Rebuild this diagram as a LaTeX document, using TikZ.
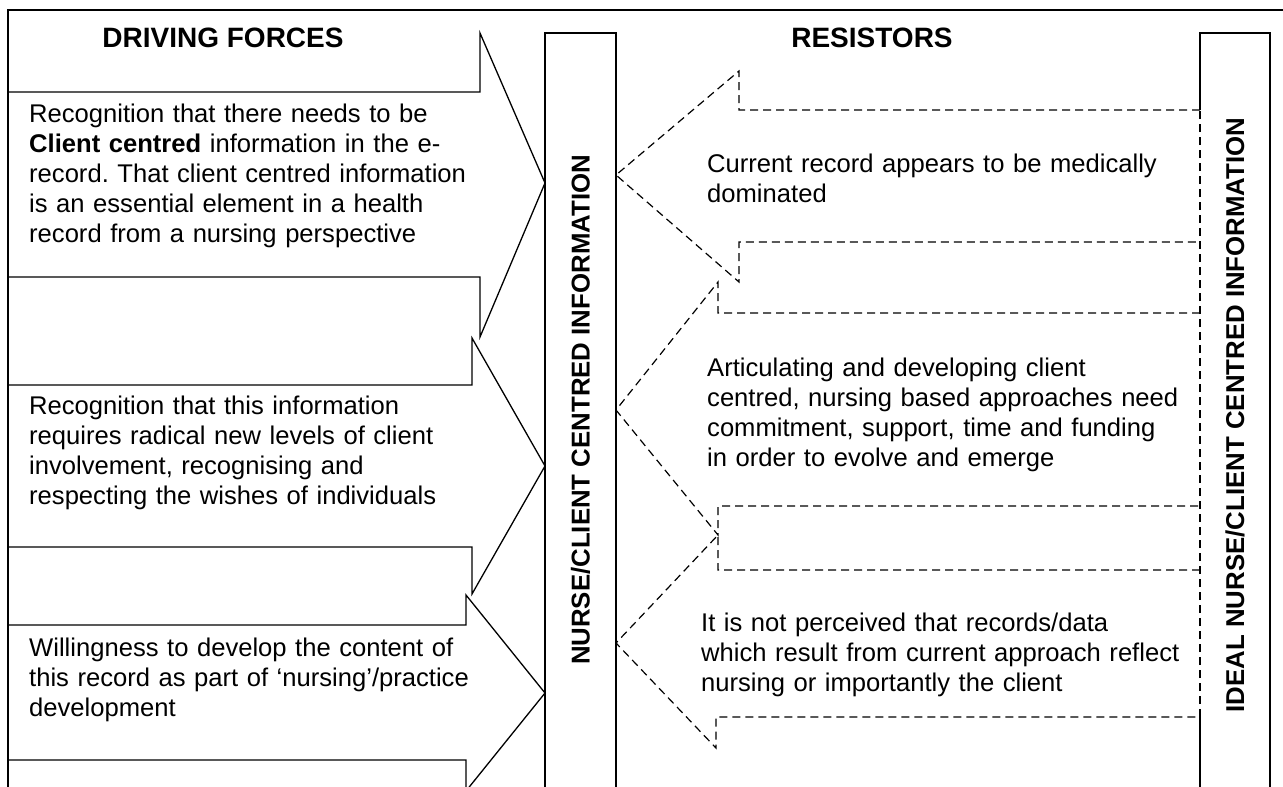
\documentclass[tikz,border=0pt]{standalone}
\usepackage{fontspec}
\setmainfont{Liberation Sans}
\frenchspacing
\begin{document}
\begin{tikzpicture}[x=1pt,y=-1pt,line join=miter,
  solidline/.style={line width=1.3pt},
  dashline/.style={line width=1.2pt,dash pattern=on 8pt off 5pt},
  body/.style={font=\fontsize{25.6}{30}\selectfont,inner sep=0pt,anchor=base west,align=left,text width=600pt},
  header/.style={font=\fontsize{28}{32}\selectfont\bfseries,inner sep=0pt},
  vlabel/.style={font=\fontsize{25.8}{30}\selectfont\bfseries,rotate=90,inner sep=0pt}]
\useasboundingbox (0,0) rectangle (1283,787);
\clip (0,0) rectangle (1283,787);

% outer frame (top and left)
\draw[solidline] (8,800) -- (8,10) -- (1290,10);

% driving forces: three solid arrows pointing right
\draw[solidline] (8,92) -- (480,92) -- (480,33) -- (545,183) -- (480,337) -- (480,277) -- (8,277);
\draw[solidline] (8,385) -- (472,385) -- (472,338) -- (545,466) -- (472,594) -- (472,547) -- (8,547);
\draw[solidline] (8,625) -- (466,625) -- (466,595) -- (545,693) -- (466,791) -- (466,760) -- (8,760);

% current state bar
\draw[solidline] (545,800) -- (545,33) -- (616,33) -- (616,800);

% ideal state bar, its left edge dashed where the resistors meet it
\draw[solidline] (1200,800) -- (1200,717);
\draw[dashline] (1200,717) -- (1200,110);
\draw[solidline] (1200,110) -- (1200,33) -- (1270,33) -- (1270,800);

% resistors: three dashed arrows pointing left
\draw[dashline] (1200,110) -- (739,110) -- (739,71) -- (616,175) -- (739,282) -- (739,242) -- (1200,242);
\draw[dashline] (1200,313) -- (718,313) -- (718,282) -- (616,410) -- (718,535) -- (718,506) -- (1200,506);
\draw[dashline] (1200,570) -- (718,570) -- (718,535) -- (616,643) -- (716,748) -- (716,717) -- (1200,717);

% headings
\node[header] (drivehead) at (223,38) {DRIVING FORCES};
\node[header] (resisthead) at (872,38) {RESISTORS};

% bar labels
\node[vlabel] (current) at (580.5,410) {NURSE/CLIENT CENTRED INFORMATION};
\node[vlabel] (ideal) at (1235,415) {IDEAL NURSE/CLIENT CENTRED INFORMATION};

% driving force texts
\node[body] (df1) at (29,122) {Recognition that there needs to be\\
\textbf{Client centred} information in the e-\\
record. That client centred information\\
is an essential element in a health\\
record from a nursing perspective};
\node[body] (df2) at (29,414) {Recognition that this information\\
requires radical new levels of client\\
involvement, recognising and\\
respecting the wishes of individuals};
\node[body] (df3) at (29,656) {Willingness to develop the content of\\
this record as part of ‘nursing’/practice\\
development};

% resistor texts
\node[body] (rs1) at (707,172) {Current record appears to be medically\\
dominated};
\node[body] (rs2) at (707,376) {Articulating and developing client\\
centred, nursing based approaches need\\
commitment, support, time and funding\\
in order to evolve and emerge};
\node[body] (rs3) at (701,631) {It is not perceived that records/data\\
which result from current approach reflect\\
nursing or importantly the client};
\end{tikzpicture}
\end{document}
